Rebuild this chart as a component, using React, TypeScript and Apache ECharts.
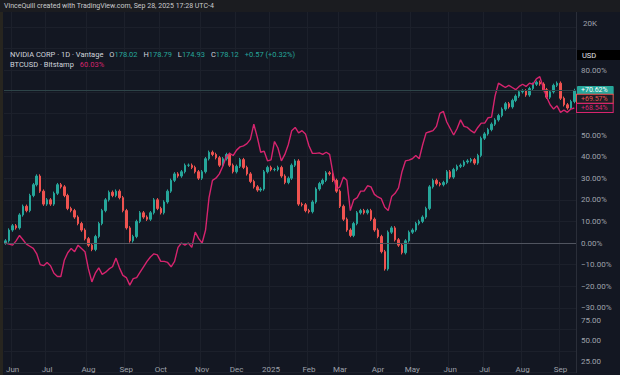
import React, { useEffect, useRef } from "react";
import * as echarts from "echarts";

// ---------- data (percent change from first bar) ----------
const MONTH_LABELS = ["Jun", "Jul", "Aug", "Sep", "Oct", "Nov", "Dec", "2025", "Feb", "Mar", "Apr", "May", "Jun", "Jul", "Aug", "Sep"];
const MONTH_INDEX = [2, 12, 24, 35, 45, 57, 67, 77, 88, 97, 108, 118, 129, 139, 150, 161];

const NVDA_CLOSE = [
  1, 6, 8, 7, 13, 17, 15, 22, 27, 31,
  24, 18, 20, 18, 23, 27, 26, 22, 16, 15,
  12, 9, 6, 2, -1, -3, 3, 9, 15, 20,
  23.5, 22, 24, 21, 15, 7, 1, 3, 10, 14,
  12, 11, 14, 20, 16, 14, 19, 24, 29, 32,
  31, 33, 36, 36, 35, 33, 30, 33, 39, 42,
  41, 39.5, 36, 39, 41, 36, 33, 35.5, 38.6, 35,
  32, 28.5, 26, 24.5, 25, 33, 35, 34, 34, 35,
  31, 28, 30, 36, 38, 18, 17.7, 15, 14.5, 19,
  25, 27.5, 29, 32.5, 32, 29, 24, 17, 11, 6,
  3.5, 9, 14, 15, 14, 15, 11, 6, 3, -4,
  -12, 5, 7, 1.5, -1, -4.5, 1, 5, 6, 9,
  10, 12, 16, 26, 29, 27.5, 27, 28, 33, 30.5,
  34, 35.5, 36, 37.5, 38, 38.6, 37, 40.5, 48.5, 50.5,
  52.5, 55, 57, 59, 62, 64.5, 63, 66, 68, 70,
  70.4, 68.5, 71.5, 73.5, 74.4, 73.6, 71, 67.5, 70, 73,
  74, 67, 64, 62.5, 65.5, 70.62,
];

const BTC_PCT = [
  0, -0.5, -1, 1, 3.5, 1.5, -0.5, -1.5, -2.5, -5,
  -10, -10.5, -9, -10.5, -14, -15.5, -15.5, -8, -4.5, -2.5,
  -4, -1, -2.5, -4, -12, -18, -14, -11.5, -14.5, -13.5,
  -12, -11, -7, -11.5, -15, -16, -19.5, -16.5, -16, -13.5,
  -11, -8.5, -6.5, -5, -5.5, -8.5, -8.5, -9, -11, -8.5,
  -2, 0, -1, 0, -2, 5, 2, 0, 6, 21,
  29, 30, 32, 35.5, 40, 41.5, 40.5, 43, 44.5, 45,
  46, 48, 55, 49, 42, 42.5, 38, 38.5, 47, 44,
  38, 41, 45.5, 52, 53.5, 51, 52, 50.5, 45, 41.5,
  41.5, 41.7, 41, 42, 41, 32, 25, 26, 30.5, 29,
  15, 20, 21, 24, 24, 26.5, 26, 22.5, 21.3, 20.5,
  16.5, 15, 21.5, 23, 25.5, 33, 38, 38.4, 39, 40.5,
  39, 45.5, 51, 51.5, 52, 54, 60, 61, 56, 53,
  50, 53, 57, 54, 53.5, 52, 51, 53.5, 55.5, 55.5,
  58, 58.3, 68, 74, 73, 72, 73, 72, 71, 72.5,
  73.5, 72.5, 74, 73.5, 76, 77, 72, 67.5, 64, 62,
  63.5, 60.5, 61.5, 60.5, 62, 62.5,
];

const PCT_TICKS = [80, 50, 40, 30, 20, 10, 0, -10, -20, -30];
const LOWER_TICKS = [25, 50, 75];
const NVDA_TAG = "+70.62%";
const NVDA_TAG2 = "+69.57%";
const NVDA_TAG2_VALUE = 69.57;
const BTC_TAG = "+68.54%";

// ---------- styling ----------
const BG = "#131722";
const UP = "#26a69a";
const DOWN = "#ef5350";
const PINK = "#d6246e";
const AXIS_TEXT = "#9fa2ab";
const GRID_LINE = "#1c202b";
const FONT = "Roboto, 'Noto Sans', sans-serif";
const WICK = 0.8;
const CLEAR = "rgba(0,0,0,0)";

const categories = NVDA_CLOSE.map((_, i) => {
  const k = MONTH_INDEX.indexOf(i);
  return k >= 0 ? MONTH_LABELS[k] : "";
});

const candles = NVDA_CLOSE.map((c, i) => {
  const o = i === 0 ? 0 : NVDA_CLOSE[i - 1];
  return [o, c, Math.min(o, c) - WICK, Math.max(o, c) + WICK];
});

const fmtPct = (v: number) => {
  const s = Math.abs(v).toFixed(2) + "%";
  return v < 0 ? "\u2212" + s : s;
};

export default function App() {
  const ref = useRef<HTMLDivElement>(null);
  useEffect(() => {
    const chart = echarts.init(ref.current!, null, { renderer: "svg" });
    const isMonth = (i: number) => MONTH_INDEX.indexOf(i) >= 0;
    const lastN = NVDA_CLOSE[NVDA_CLOSE.length - 1];
    const lastB = BTC_PCT[BTC_PCT.length - 1];
    const tagBox = (text: string, color: string, off: number) => ({
      show: true,
      position: "end",
      distance: 1,
      offset: [0, off],
      formatter: text,
      backgroundColor: "#1a1d27",
      borderColor: color,
      borderWidth: 1,
      color: color,
      fontSize: 7,
      padding: [1, 5, 0, 4],
    });
    const option: any = {
      animation: false,
      backgroundColor: BG,
      textStyle: { fontFamily: FONT },
      grid: [
        { left: 4, right: 44, top: 5.4, height: 367.2 },
        { left: 4, right: 44, top: 299.5, height: 61.5 },
      ],
      xAxis: [
        {
          type: "category",
          gridIndex: 0,
          data: categories,
          boundaryGap: true,
          offset: -10.6,
          axisLine: { show: false },
          axisTick: { show: false },
          axisLabel: {
            interval: (i: number) => isMonth(i),
            color: AXIS_TEXT,
            fontSize: 8,
            margin: 3,
          },
          splitLine: {
            show: true,
            interval: (i: number) => isMonth(i),
            lineStyle: { color: GRID_LINE, width: 1 },
          },
        },
        { type: "category", gridIndex: 1, data: categories, show: false },
      ],
      yAxis: [
        {
          type: "value",
          gridIndex: 0,
          position: "right",
          min: -60,
          max: 110,
          interval: 10,
          axisLine: { show: true, lineStyle: { color: "#2a2e39" } },
          axisTick: { show: false },
          axisLabel: {
            color: AXIS_TEXT,
            fontSize: 8,
            margin: 5,
            formatter: (v: number) => (PCT_TICKS.indexOf(v) >= 0 ? fmtPct(v) : ""),
          },
          splitLine: { show: true, lineStyle: { color: GRID_LINE, width: 1 } },
        },
        {
          type: "value",
          gridIndex: 1,
          position: "right",
          min: 25,
          max: 100,
          interval: 25,
          show: false,
        },
      ],
      series: [
        {
          type: "candlestick",
          xAxisIndex: 0,
          yAxisIndex: 0,
          data: candles,
          barWidth: 2,
          itemStyle: { color: UP, color0: DOWN, borderColor: UP, borderColor0: DOWN, borderWidth: 1 },
          markLine: {
            symbol: "none",
            silent: true,
            data: [
              {
                yAxis: 0,
                lineStyle: { color: "#50545f", width: 1, type: "solid" },
                label: { show: false },
              },
              {
                yAxis: lastN,
                lineStyle: { color: "#2d4448", width: 1, type: "solid" },
                label: {
                  show: true,
                  position: "end",
                  distance: 1,
                  formatter: NVDA_TAG,
                  backgroundColor: UP,
                  color: "#ffffff",
                  fontSize: 7,
                  padding: [1, 6, 1, 4],
                  borderRadius: 1,
                },
              },
              {
                yAxis: NVDA_TAG2_VALUE,
                lineStyle: { color: CLEAR, width: 1, type: "solid" },
                label: tagBox(NVDA_TAG2, DOWN, 6),
              },
            ],
          },
        },
        {
          type: "line",
          xAxisIndex: 0,
          yAxisIndex: 0,
          data: BTC_PCT,
          showSymbol: false,
          lineStyle: { color: PINK, width: 1.4 },
          itemStyle: { color: PINK },
          markLine: {
            symbol: "none",
            silent: true,
            data: [
              {
                yAxis: lastB,
                lineStyle: { color: CLEAR, width: 1, type: "solid" },
                label: tagBox(BTC_TAG, PINK, 0),
              },
            ],
          },
        },
        { type: "line", xAxisIndex: 1, yAxisIndex: 1, data: [] },
      ],
      graphic: [
        { id: "hdr", type: "rect", shape: { x: 0, y: 0, width: 620, height: 12 }, style: { fill: "#1b1c20" }, z: 10 },
        { id: "strip", type: "rect", shape: { x: 0, y: 12, width: 3, height: 363 }, style: { fill: "#27251f" }, z: 10 },
        {
          id: "hdrText",
          type: "text",
          x: 4,
          y: 6,
          z: 11,
          style: {
            text: "VinceQuill created with TradingView.com, Sep 28, 2025 17:28 UTC-4",
            fill: "#c9cacd",
            fontSize: 7,
            fontFamily: FONT,
            verticalAlign: "middle",
          },
        },
        {
          id: "leg1",
          type: "text",
          x: 10,
          y: 54,
          z: 11,
          style: {
            text: "{t|NVIDIA CORP · 1D · Vantage}  {t|O}{v|178.02}  {t|H}{v|178.79}  {t|L}{v|174.93}  {t|C}{v|178.12}  {v|+0.57 (+0.32%)}",
            verticalAlign: "middle",
            fontFamily: FONT,
            rich: {
              t: { fill: "#d1d4dc", fontSize: 7.5, fontFamily: FONT },
              v: { fill: UP, fontSize: 7.5, fontFamily: FONT },
            },
          },
        },
        {
          id: "leg2",
          type: "text",
          x: 10,
          y: 64,
          z: 11,
          style: {
            text: "{t|BTCUSD · Bitstamp}  {p|60.03%}",
            verticalAlign: "middle",
            fontFamily: FONT,
            rich: {
              t: { fill: "#d1d4dc", fontSize: 7.5, fontFamily: FONT },
              p: { fill: PINK, fontSize: 7.5, fontFamily: FONT },
            },
          },
        },
        {
          id: "k20",
          type: "text",
          x: 583,
          y: 23,
          z: 11,
          style: { text: "20K", fill: AXIS_TEXT, fontSize: 8, fontFamily: FONT, verticalAlign: "middle" },
        },
        { id: "usdBox", type: "rect", shape: { x: 577, y: 50, width: 43, height: 10 }, style: { fill: "#000000" }, z: 10 },
        {
          id: "usd",
          type: "text",
          x: 582,
          y: 55,
          z: 11,
          style: { text: "USD", fill: "#e0e3eb", fontSize: 7.5, fontFamily: FONT, verticalAlign: "middle" },
        },
      ],
    };
    chart.setOption(option);

    // lower pane scale labels, placed through the pane's own y axis
    const lowerLabels = LOWER_TICKS.map((v) => {
      const py = chart.convertToPixel({ yAxisIndex: 1 }, v) as number;
      return {
        id: "low" + v,
        type: "text",
        x: 581,
        y: py,
        z: 11,
        style: {
          text: v.toFixed(2),
          fill: AXIS_TEXT,
          fontSize: 8,
          fontFamily: FONT,
          verticalAlign: "middle",
        },
      };
    });
    chart.setOption({ graphic: lowerLabels });
    return () => chart.dispose();
  }, []);
  return <div ref={ref} style={{ position: "fixed", left: 0, top: 0, width: 620, height: 375 }} />;
}
